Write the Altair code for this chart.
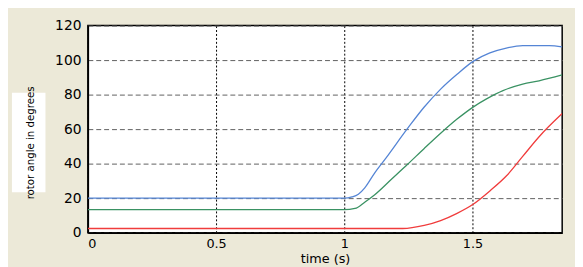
import altair as alt
import pandas as pd

blue_t = [0.0, 1.0, 1.03, 1.055, 1.08, 1.119, 1.158, 1.247, 1.312, 1.376, 1.44, 1.504, 1.568, 1.632, 1.696, 1.8, 1.85]
blue_v = [20.0, 20.0, 20.7, 22.3, 26.0, 34.7, 42.3, 60.4, 72.8, 83.2, 91.8, 99.4, 104.2, 107.0, 108.4, 108.4, 107.6]

green_t = [0.0, 1.0, 1.042, 1.081, 1.119, 1.183, 1.247, 1.312, 1.376, 1.44, 1.504, 1.555, 1.619, 1.696, 1.76, 1.85]
green_v = [13.3, 13.3, 14.0, 17.8, 22.0, 30.8, 39.6, 48.8, 57.6, 65.8, 72.9, 77.5, 82.3, 86.1, 88.0, 91.4]

red_t = [0.0, 1.228, 1.312, 1.376, 1.44, 1.504, 1.568, 1.632, 1.696, 1.76, 1.85]
red_v = [2.4, 2.4, 4.2, 7.0, 11.2, 16.6, 24.2, 32.8, 44.2, 55.6, 69.0]

series_names = ["blue", "green", "red"]
series_colors = ["#5585d5", "#3a9263", "#f03c3c"]

x_ticks = [0, 0.5, 1, 1.5]
y_ticks = [0, 20, 40, 60, 80, 100, 120]
x_title = "time (s)"
y_title = ["rotor angle in degrees"]

rows = []
for name, ts, vs in zip(series_names, [blue_t, green_t, red_t], [blue_v, green_v, red_v]):
    for i, (t, v) in enumerate(zip(ts, vs)):
        rows.append({"series": name, "t": t, "v": v, "order": i})
df = pd.DataFrame(rows)

lines = alt.Chart(df).mark_line(strokeWidth=1.3, interpolate="monotone", clip=True).encode(
    x=alt.X("t:Q", scale=alt.Scale(domain=[0, 1.85], nice=False, zero=False),
            axis=alt.Axis(values=x_ticks, title=x_title, gridDash=[2, 2], gridColor="#000000",
                          gridOpacity=1, labelExpr="toString(datum.value)")),
    y=alt.Y("v:Q", scale=alt.Scale(domain=[0, 120], nice=False),
            axis=alt.Axis(values=y_ticks, title=None, gridDash=[5, 3], gridColor="#606060",
                          gridOpacity=1)),
    color=alt.Color("series:N", scale=alt.Scale(domain=series_names, range=series_colors), legend=None),
    order="order:Q",
)

box = alt.Chart(pd.DataFrame({"k": [0]})).mark_rect(color="white").encode(
    x=alt.value(-77), x2=alt.value(-43), y=alt.value(68), y2=alt.value(169)
)

label = alt.Chart(pd.DataFrame({"txt": y_title})).mark_text(
    angle=270, font="DejaVu Sans Condensed, Liberation Sans Narrow, Liberation Sans", fontSize=11.5,
    color="#000000", baseline="middle", align="center"
).encode(x=alt.value(-58), y=alt.value(119), text="txt:N")

chart = alt.layer(box, lines, label).properties(
    width=481, height=210,
    background="#ece9d8",
    padding={"left": 81, "top": 16, "right": 13, "bottom": 33},
    autosize=alt.AutoSizeParams(type="none"),
).configure_view(
    fill="white", stroke="#000000", strokeWidth=1.5
).configure_axis(
    domainColor="#000000", domainWidth=1.5, ticks=False,
    labelFont="DejaVu Sans", labelFontSize=14, labelColor="#000000", labelPadding=5,
    titleFont="DejaVu Sans", titleFontSize=13, titleFontWeight="normal", titleColor="#000000",
).configure_axisX(titlePadding=2, labelPadding=5, labelFontSize=13).configure_axisY(labelPadding=7)

chart.save("out.html", embed_options={"renderer": "svg", "actions": False})
